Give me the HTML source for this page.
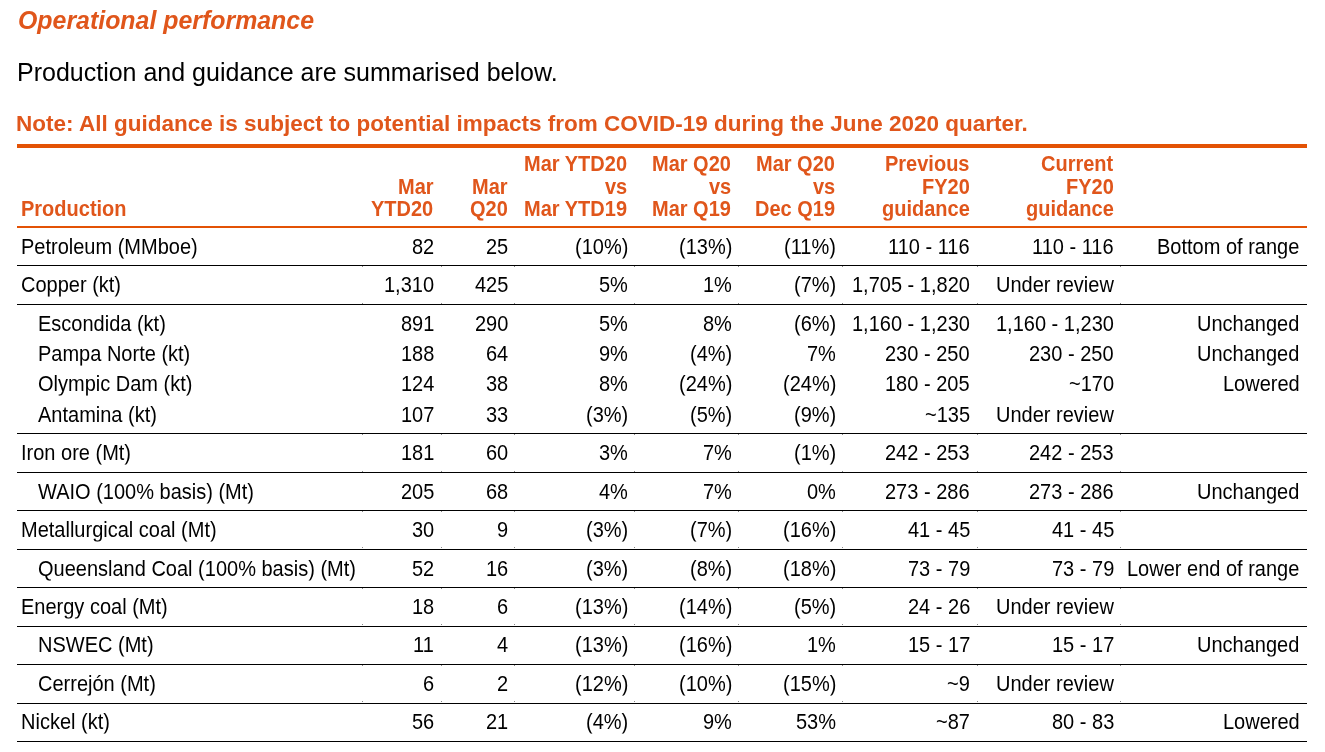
<!DOCTYPE html>
<html><head><meta charset="utf-8"><style>
html,body{margin:0;padding:0;background:#fff;}
body{width:1325px;height:752px;position:relative;overflow:hidden;font-family:"Liberation Sans",sans-serif;}
.t{position:absolute;white-space:nowrap;will-change:transform;}
.l{position:absolute;}
</style></head><body>
<div class="t" style="left:18px;top:8.32px;font-size:24.9px;line-height:24.9px;color:#E0561B;font-weight:bold;font-style:italic;transform-origin:0 21.08px;transform:scale(1,1.01)">Operational performance</div>
<div class="t" style="left:16.8px;top:60.43px;font-size:25.0px;line-height:25.0px;color:#000;transform-origin:0 21.17px;transform:scale(1,1.04)">Production and guidance are summarised below.</div>
<div class="t" style="left:16px;top:113.15px;font-size:22.5px;line-height:22.5px;color:#E0561B;font-weight:bold;transform-origin:0 19.05px;transform:scale(1,1.0)">Note: All guidance is subject to potential impacts from COVID-19 during the June 2020 quarter.</div>
<div class="l" style="left:17px;top:144px;width:1290px;height:4px;background:#E35205"></div>
<div class="t" style="left:21px;top:199.27px;font-size:20px;line-height:20px;color:#E0561B;font-weight:bold;transform-origin:0 16.93px;transform:scale(1,1.08)">Production</div>
<div class="t" style="right:891.7px;top:176.87px;font-size:20px;line-height:20px;color:#E0561B;font-weight:bold;transform-origin:0 16.93px;transform:scale(1,1.08)">Mar</div>
<div class="t" style="right:891.7px;top:199.27px;font-size:20px;line-height:20px;color:#E0561B;font-weight:bold;transform-origin:0 16.93px;transform:scale(1,1.08)">YTD20</div>
<div class="t" style="right:817.7px;top:176.87px;font-size:20px;line-height:20px;color:#E0561B;font-weight:bold;transform-origin:0 16.93px;transform:scale(1,1.08)">Mar</div>
<div class="t" style="right:817.7px;top:199.27px;font-size:20px;line-height:20px;color:#E0561B;font-weight:bold;transform-origin:0 16.93px;transform:scale(1,1.08)">Q20</div>
<div class="t" style="right:697.7px;top:154.07px;font-size:20px;line-height:20px;color:#E0561B;font-weight:bold;transform-origin:0 16.93px;transform:scale(1,1.08)">Mar YTD20</div>
<div class="t" style="right:697.7px;top:176.87px;font-size:20px;line-height:20px;color:#E0561B;font-weight:bold;transform-origin:0 16.93px;transform:scale(1,1.08)">vs</div>
<div class="t" style="right:697.7px;top:199.27px;font-size:20px;line-height:20px;color:#E0561B;font-weight:bold;transform-origin:0 16.93px;transform:scale(1,1.08)">Mar YTD19</div>
<div class="t" style="right:593.7px;top:154.07px;font-size:20px;line-height:20px;color:#E0561B;font-weight:bold;transform-origin:0 16.93px;transform:scale(1,1.08)">Mar Q20</div>
<div class="t" style="right:593.7px;top:176.87px;font-size:20px;line-height:20px;color:#E0561B;font-weight:bold;transform-origin:0 16.93px;transform:scale(1,1.08)">vs</div>
<div class="t" style="right:593.7px;top:199.27px;font-size:20px;line-height:20px;color:#E0561B;font-weight:bold;transform-origin:0 16.93px;transform:scale(1,1.08)">Mar Q19</div>
<div class="t" style="right:489.70000000000005px;top:154.07px;font-size:20px;line-height:20px;color:#E0561B;font-weight:bold;transform-origin:0 16.93px;transform:scale(1,1.08)">Mar Q20</div>
<div class="t" style="right:489.70000000000005px;top:176.87px;font-size:20px;line-height:20px;color:#E0561B;font-weight:bold;transform-origin:0 16.93px;transform:scale(1,1.08)">vs</div>
<div class="t" style="right:489.70000000000005px;top:199.27px;font-size:20px;line-height:20px;color:#E0561B;font-weight:bold;transform-origin:0 16.93px;transform:scale(1,1.08)">Dec Q19</div>
<div class="t" style="right:355.70000000000005px;top:154.07px;font-size:20px;line-height:20px;color:#E0561B;font-weight:bold;transform-origin:0 16.93px;transform:scale(1,1.08)">Previous</div>
<div class="t" style="right:355.70000000000005px;top:176.87px;font-size:20px;line-height:20px;color:#E0561B;font-weight:bold;transform-origin:0 16.93px;transform:scale(1,1.08)">FY20</div>
<div class="t" style="right:355.70000000000005px;top:199.27px;font-size:20px;line-height:20px;color:#E0561B;font-weight:bold;transform-origin:0 16.93px;transform:scale(1,1.08)">guidance</div>
<div class="t" style="right:211.70000000000005px;top:154.07px;font-size:20px;line-height:20px;color:#E0561B;font-weight:bold;transform-origin:0 16.93px;transform:scale(1,1.08)">Current</div>
<div class="t" style="right:211.70000000000005px;top:176.87px;font-size:20px;line-height:20px;color:#E0561B;font-weight:bold;transform-origin:0 16.93px;transform:scale(1,1.08)">FY20</div>
<div class="t" style="right:211.70000000000005px;top:199.27px;font-size:20px;line-height:20px;color:#E0561B;font-weight:bold;transform-origin:0 16.93px;transform:scale(1,1.08)">guidance</div>
<div class="l" style="left:17px;top:226px;width:1290px;height:2px;background:#E35205"></div>
<div class="t" style="left:21px;top:236.57px;font-size:20px;line-height:20px;color:#000;transform-origin:0 16.93px;transform:scale(1,1.08)">Petroleum (MMboe)</div>
<div class="t" style="right:891px;top:236.57px;font-size:20px;line-height:20px;color:#000;transform-origin:0 16.93px;transform:scale(1,1.08)">82</div>
<div class="t" style="right:817px;top:236.57px;font-size:20px;line-height:20px;color:#000;transform-origin:0 16.93px;transform:scale(1,1.08)">25</div>
<div class="t" style="right:697px;top:236.57px;font-size:20px;line-height:20px;color:#000;transform-origin:0 16.93px;transform:scale(1,1.08)">(10%)</div>
<div class="t" style="right:593px;top:236.57px;font-size:20px;line-height:20px;color:#000;transform-origin:0 16.93px;transform:scale(1,1.08)">(13%)</div>
<div class="t" style="right:489px;top:236.57px;font-size:20px;line-height:20px;color:#000;transform-origin:0 16.93px;transform:scale(1,1.08)">(11%)</div>
<div class="t" style="right:355px;top:236.57px;font-size:20px;line-height:20px;color:#000;transform-origin:0 16.93px;transform:scale(1,1.08)">110 - 116</div>
<div class="t" style="right:211px;top:236.57px;font-size:20px;line-height:20px;color:#000;transform-origin:0 16.93px;transform:scale(1,1.08)">110 - 116</div>
<div class="t" style="right:25.5px;top:236.57px;font-size:20px;line-height:20px;color:#000;transform-origin:0 16.93px;transform:scale(1,1.08)">Bottom of range</div>
<div class="t" style="left:21px;top:274.57px;font-size:20px;line-height:20px;color:#000;transform-origin:0 16.93px;transform:scale(1,1.08)">Copper (kt)</div>
<div class="t" style="right:891px;top:274.57px;font-size:20px;line-height:20px;color:#000;transform-origin:0 16.93px;transform:scale(1,1.08)">1,310</div>
<div class="t" style="right:817px;top:274.57px;font-size:20px;line-height:20px;color:#000;transform-origin:0 16.93px;transform:scale(1,1.08)">425</div>
<div class="t" style="right:697px;top:274.57px;font-size:20px;line-height:20px;color:#000;transform-origin:0 16.93px;transform:scale(1,1.08)">5%</div>
<div class="t" style="right:593px;top:274.57px;font-size:20px;line-height:20px;color:#000;transform-origin:0 16.93px;transform:scale(1,1.08)">1%</div>
<div class="t" style="right:489px;top:274.57px;font-size:20px;line-height:20px;color:#000;transform-origin:0 16.93px;transform:scale(1,1.08)">(7%)</div>
<div class="t" style="right:355px;top:274.57px;font-size:20px;line-height:20px;color:#000;transform-origin:0 16.93px;transform:scale(1,1.08)">1,705 - 1,820</div>
<div class="t" style="right:211px;top:274.57px;font-size:20px;line-height:20px;color:#000;transform-origin:0 16.93px;transform:scale(1,1.08)">Under review</div>
<div class="t" style="left:38px;top:313.57px;font-size:20px;line-height:20px;color:#000;transform-origin:0 16.93px;transform:scale(1,1.08)">Escondida (kt)</div>
<div class="t" style="right:891px;top:313.57px;font-size:20px;line-height:20px;color:#000;transform-origin:0 16.93px;transform:scale(1,1.08)">891</div>
<div class="t" style="right:817px;top:313.57px;font-size:20px;line-height:20px;color:#000;transform-origin:0 16.93px;transform:scale(1,1.08)">290</div>
<div class="t" style="right:697px;top:313.57px;font-size:20px;line-height:20px;color:#000;transform-origin:0 16.93px;transform:scale(1,1.08)">5%</div>
<div class="t" style="right:593px;top:313.57px;font-size:20px;line-height:20px;color:#000;transform-origin:0 16.93px;transform:scale(1,1.08)">8%</div>
<div class="t" style="right:489px;top:313.57px;font-size:20px;line-height:20px;color:#000;transform-origin:0 16.93px;transform:scale(1,1.08)">(6%)</div>
<div class="t" style="right:355px;top:313.57px;font-size:20px;line-height:20px;color:#000;transform-origin:0 16.93px;transform:scale(1,1.08)">1,160 - 1,230</div>
<div class="t" style="right:211px;top:313.57px;font-size:20px;line-height:20px;color:#000;transform-origin:0 16.93px;transform:scale(1,1.08)">1,160 - 1,230</div>
<div class="t" style="right:25.5px;top:313.57px;font-size:20px;line-height:20px;color:#000;transform-origin:0 16.93px;transform:scale(1,1.08)">Unchanged</div>
<div class="t" style="left:38px;top:344.07px;font-size:20px;line-height:20px;color:#000;transform-origin:0 16.93px;transform:scale(1,1.08)">Pampa Norte (kt)</div>
<div class="t" style="right:891px;top:344.07px;font-size:20px;line-height:20px;color:#000;transform-origin:0 16.93px;transform:scale(1,1.08)">188</div>
<div class="t" style="right:817px;top:344.07px;font-size:20px;line-height:20px;color:#000;transform-origin:0 16.93px;transform:scale(1,1.08)">64</div>
<div class="t" style="right:697px;top:344.07px;font-size:20px;line-height:20px;color:#000;transform-origin:0 16.93px;transform:scale(1,1.08)">9%</div>
<div class="t" style="right:593px;top:344.07px;font-size:20px;line-height:20px;color:#000;transform-origin:0 16.93px;transform:scale(1,1.08)">(4%)</div>
<div class="t" style="right:489px;top:344.07px;font-size:20px;line-height:20px;color:#000;transform-origin:0 16.93px;transform:scale(1,1.08)">7%</div>
<div class="t" style="right:355px;top:344.07px;font-size:20px;line-height:20px;color:#000;transform-origin:0 16.93px;transform:scale(1,1.08)">230 - 250</div>
<div class="t" style="right:211px;top:344.07px;font-size:20px;line-height:20px;color:#000;transform-origin:0 16.93px;transform:scale(1,1.08)">230 - 250</div>
<div class="t" style="right:25.5px;top:344.07px;font-size:20px;line-height:20px;color:#000;transform-origin:0 16.93px;transform:scale(1,1.08)">Unchanged</div>
<div class="t" style="left:38px;top:374.37px;font-size:20px;line-height:20px;color:#000;transform-origin:0 16.93px;transform:scale(1,1.08)">Olympic Dam (kt)</div>
<div class="t" style="right:891px;top:374.37px;font-size:20px;line-height:20px;color:#000;transform-origin:0 16.93px;transform:scale(1,1.08)">124</div>
<div class="t" style="right:817px;top:374.37px;font-size:20px;line-height:20px;color:#000;transform-origin:0 16.93px;transform:scale(1,1.08)">38</div>
<div class="t" style="right:697px;top:374.37px;font-size:20px;line-height:20px;color:#000;transform-origin:0 16.93px;transform:scale(1,1.08)">8%</div>
<div class="t" style="right:593px;top:374.37px;font-size:20px;line-height:20px;color:#000;transform-origin:0 16.93px;transform:scale(1,1.08)">(24%)</div>
<div class="t" style="right:489px;top:374.37px;font-size:20px;line-height:20px;color:#000;transform-origin:0 16.93px;transform:scale(1,1.08)">(24%)</div>
<div class="t" style="right:355px;top:374.37px;font-size:20px;line-height:20px;color:#000;transform-origin:0 16.93px;transform:scale(1,1.08)">180 - 205</div>
<div class="t" style="right:211px;top:374.37px;font-size:20px;line-height:20px;color:#000;transform-origin:0 16.93px;transform:scale(1,1.08)">~170</div>
<div class="t" style="right:25.5px;top:374.37px;font-size:20px;line-height:20px;color:#000;transform-origin:0 16.93px;transform:scale(1,1.08)">Lowered</div>
<div class="t" style="left:38px;top:405.07px;font-size:20px;line-height:20px;color:#000;transform-origin:0 16.93px;transform:scale(1,1.08)">Antamina (kt)</div>
<div class="t" style="right:891px;top:405.07px;font-size:20px;line-height:20px;color:#000;transform-origin:0 16.93px;transform:scale(1,1.08)">107</div>
<div class="t" style="right:817px;top:405.07px;font-size:20px;line-height:20px;color:#000;transform-origin:0 16.93px;transform:scale(1,1.08)">33</div>
<div class="t" style="right:697px;top:405.07px;font-size:20px;line-height:20px;color:#000;transform-origin:0 16.93px;transform:scale(1,1.08)">(3%)</div>
<div class="t" style="right:593px;top:405.07px;font-size:20px;line-height:20px;color:#000;transform-origin:0 16.93px;transform:scale(1,1.08)">(5%)</div>
<div class="t" style="right:489px;top:405.07px;font-size:20px;line-height:20px;color:#000;transform-origin:0 16.93px;transform:scale(1,1.08)">(9%)</div>
<div class="t" style="right:355px;top:405.07px;font-size:20px;line-height:20px;color:#000;transform-origin:0 16.93px;transform:scale(1,1.08)">~135</div>
<div class="t" style="right:211px;top:405.07px;font-size:20px;line-height:20px;color:#000;transform-origin:0 16.93px;transform:scale(1,1.08)">Under review</div>
<div class="t" style="left:21px;top:443.07px;font-size:20px;line-height:20px;color:#000;transform-origin:0 16.93px;transform:scale(1,1.08)">Iron ore (Mt)</div>
<div class="t" style="right:891px;top:443.07px;font-size:20px;line-height:20px;color:#000;transform-origin:0 16.93px;transform:scale(1,1.08)">181</div>
<div class="t" style="right:817px;top:443.07px;font-size:20px;line-height:20px;color:#000;transform-origin:0 16.93px;transform:scale(1,1.08)">60</div>
<div class="t" style="right:697px;top:443.07px;font-size:20px;line-height:20px;color:#000;transform-origin:0 16.93px;transform:scale(1,1.08)">3%</div>
<div class="t" style="right:593px;top:443.07px;font-size:20px;line-height:20px;color:#000;transform-origin:0 16.93px;transform:scale(1,1.08)">7%</div>
<div class="t" style="right:489px;top:443.07px;font-size:20px;line-height:20px;color:#000;transform-origin:0 16.93px;transform:scale(1,1.08)">(1%)</div>
<div class="t" style="right:355px;top:443.07px;font-size:20px;line-height:20px;color:#000;transform-origin:0 16.93px;transform:scale(1,1.08)">242 - 253</div>
<div class="t" style="right:211px;top:443.07px;font-size:20px;line-height:20px;color:#000;transform-origin:0 16.93px;transform:scale(1,1.08)">242 - 253</div>
<div class="t" style="left:38px;top:482.07px;font-size:20px;line-height:20px;color:#000;transform-origin:0 16.93px;transform:scale(1,1.08)">WAIO (100% basis) (Mt)</div>
<div class="t" style="right:891px;top:482.07px;font-size:20px;line-height:20px;color:#000;transform-origin:0 16.93px;transform:scale(1,1.08)">205</div>
<div class="t" style="right:817px;top:482.07px;font-size:20px;line-height:20px;color:#000;transform-origin:0 16.93px;transform:scale(1,1.08)">68</div>
<div class="t" style="right:697px;top:482.07px;font-size:20px;line-height:20px;color:#000;transform-origin:0 16.93px;transform:scale(1,1.08)">4%</div>
<div class="t" style="right:593px;top:482.07px;font-size:20px;line-height:20px;color:#000;transform-origin:0 16.93px;transform:scale(1,1.08)">7%</div>
<div class="t" style="right:489px;top:482.07px;font-size:20px;line-height:20px;color:#000;transform-origin:0 16.93px;transform:scale(1,1.08)">0%</div>
<div class="t" style="right:355px;top:482.07px;font-size:20px;line-height:20px;color:#000;transform-origin:0 16.93px;transform:scale(1,1.08)">273 - 286</div>
<div class="t" style="right:211px;top:482.07px;font-size:20px;line-height:20px;color:#000;transform-origin:0 16.93px;transform:scale(1,1.08)">273 - 286</div>
<div class="t" style="right:25.5px;top:482.07px;font-size:20px;line-height:20px;color:#000;transform-origin:0 16.93px;transform:scale(1,1.08)">Unchanged</div>
<div class="t" style="left:21px;top:520.07px;font-size:20px;line-height:20px;color:#000;transform-origin:0 16.93px;transform:scale(1,1.08)">Metallurgical coal (Mt)</div>
<div class="t" style="right:891px;top:520.07px;font-size:20px;line-height:20px;color:#000;transform-origin:0 16.93px;transform:scale(1,1.08)">30</div>
<div class="t" style="right:817px;top:520.07px;font-size:20px;line-height:20px;color:#000;transform-origin:0 16.93px;transform:scale(1,1.08)">9</div>
<div class="t" style="right:697px;top:520.07px;font-size:20px;line-height:20px;color:#000;transform-origin:0 16.93px;transform:scale(1,1.08)">(3%)</div>
<div class="t" style="right:593px;top:520.07px;font-size:20px;line-height:20px;color:#000;transform-origin:0 16.93px;transform:scale(1,1.08)">(7%)</div>
<div class="t" style="right:489px;top:520.07px;font-size:20px;line-height:20px;color:#000;transform-origin:0 16.93px;transform:scale(1,1.08)">(16%)</div>
<div class="t" style="right:355px;top:520.07px;font-size:20px;line-height:20px;color:#000;transform-origin:0 16.93px;transform:scale(1,1.08)">41 - 45</div>
<div class="t" style="right:211px;top:520.07px;font-size:20px;line-height:20px;color:#000;transform-origin:0 16.93px;transform:scale(1,1.08)">41 - 45</div>
<div class="t" style="left:38px;top:558.57px;font-size:20px;line-height:20px;color:#000;transform-origin:0 16.93px;transform:scale(1,1.08)">Queensland Coal (100% basis) (Mt)</div>
<div class="t" style="right:891px;top:558.57px;font-size:20px;line-height:20px;color:#000;transform-origin:0 16.93px;transform:scale(1,1.08)">52</div>
<div class="t" style="right:817px;top:558.57px;font-size:20px;line-height:20px;color:#000;transform-origin:0 16.93px;transform:scale(1,1.08)">16</div>
<div class="t" style="right:697px;top:558.57px;font-size:20px;line-height:20px;color:#000;transform-origin:0 16.93px;transform:scale(1,1.08)">(3%)</div>
<div class="t" style="right:593px;top:558.57px;font-size:20px;line-height:20px;color:#000;transform-origin:0 16.93px;transform:scale(1,1.08)">(8%)</div>
<div class="t" style="right:489px;top:558.57px;font-size:20px;line-height:20px;color:#000;transform-origin:0 16.93px;transform:scale(1,1.08)">(18%)</div>
<div class="t" style="right:355px;top:558.57px;font-size:20px;line-height:20px;color:#000;transform-origin:0 16.93px;transform:scale(1,1.08)">73 - 79</div>
<div class="t" style="right:211px;top:558.57px;font-size:20px;line-height:20px;color:#000;transform-origin:0 16.93px;transform:scale(1,1.08)">73 - 79</div>
<div class="t" style="right:25.5px;top:558.57px;font-size:20px;line-height:20px;color:#000;transform-origin:0 16.93px;transform:scale(1,1.08)">Lower end of range</div>
<div class="t" style="left:21px;top:597.07px;font-size:20px;line-height:20px;color:#000;transform-origin:0 16.93px;transform:scale(1,1.08)">Energy coal (Mt)</div>
<div class="t" style="right:891px;top:597.07px;font-size:20px;line-height:20px;color:#000;transform-origin:0 16.93px;transform:scale(1,1.08)">18</div>
<div class="t" style="right:817px;top:597.07px;font-size:20px;line-height:20px;color:#000;transform-origin:0 16.93px;transform:scale(1,1.08)">6</div>
<div class="t" style="right:697px;top:597.07px;font-size:20px;line-height:20px;color:#000;transform-origin:0 16.93px;transform:scale(1,1.08)">(13%)</div>
<div class="t" style="right:593px;top:597.07px;font-size:20px;line-height:20px;color:#000;transform-origin:0 16.93px;transform:scale(1,1.08)">(14%)</div>
<div class="t" style="right:489px;top:597.07px;font-size:20px;line-height:20px;color:#000;transform-origin:0 16.93px;transform:scale(1,1.08)">(5%)</div>
<div class="t" style="right:355px;top:597.07px;font-size:20px;line-height:20px;color:#000;transform-origin:0 16.93px;transform:scale(1,1.08)">24 - 26</div>
<div class="t" style="right:211px;top:597.07px;font-size:20px;line-height:20px;color:#000;transform-origin:0 16.93px;transform:scale(1,1.08)">Under review</div>
<div class="t" style="left:38px;top:634.77px;font-size:20px;line-height:20px;color:#000;transform-origin:0 16.93px;transform:scale(1,1.08)">NSWEC (Mt)</div>
<div class="t" style="right:891px;top:634.77px;font-size:20px;line-height:20px;color:#000;transform-origin:0 16.93px;transform:scale(1,1.08)">11</div>
<div class="t" style="right:817px;top:634.77px;font-size:20px;line-height:20px;color:#000;transform-origin:0 16.93px;transform:scale(1,1.08)">4</div>
<div class="t" style="right:697px;top:634.77px;font-size:20px;line-height:20px;color:#000;transform-origin:0 16.93px;transform:scale(1,1.08)">(13%)</div>
<div class="t" style="right:593px;top:634.77px;font-size:20px;line-height:20px;color:#000;transform-origin:0 16.93px;transform:scale(1,1.08)">(16%)</div>
<div class="t" style="right:489px;top:634.77px;font-size:20px;line-height:20px;color:#000;transform-origin:0 16.93px;transform:scale(1,1.08)">1%</div>
<div class="t" style="right:355px;top:634.77px;font-size:20px;line-height:20px;color:#000;transform-origin:0 16.93px;transform:scale(1,1.08)">15 - 17</div>
<div class="t" style="right:211px;top:634.77px;font-size:20px;line-height:20px;color:#000;transform-origin:0 16.93px;transform:scale(1,1.08)">15 - 17</div>
<div class="t" style="right:25.5px;top:634.77px;font-size:20px;line-height:20px;color:#000;transform-origin:0 16.93px;transform:scale(1,1.08)">Unchanged</div>
<div class="t" style="left:38px;top:674.07px;font-size:20px;line-height:20px;color:#000;transform-origin:0 16.93px;transform:scale(1,1.08)">Cerrej&oacute;n (Mt)</div>
<div class="t" style="right:891px;top:674.07px;font-size:20px;line-height:20px;color:#000;transform-origin:0 16.93px;transform:scale(1,1.08)">6</div>
<div class="t" style="right:817px;top:674.07px;font-size:20px;line-height:20px;color:#000;transform-origin:0 16.93px;transform:scale(1,1.08)">2</div>
<div class="t" style="right:697px;top:674.07px;font-size:20px;line-height:20px;color:#000;transform-origin:0 16.93px;transform:scale(1,1.08)">(12%)</div>
<div class="t" style="right:593px;top:674.07px;font-size:20px;line-height:20px;color:#000;transform-origin:0 16.93px;transform:scale(1,1.08)">(10%)</div>
<div class="t" style="right:489px;top:674.07px;font-size:20px;line-height:20px;color:#000;transform-origin:0 16.93px;transform:scale(1,1.08)">(15%)</div>
<div class="t" style="right:355px;top:674.07px;font-size:20px;line-height:20px;color:#000;transform-origin:0 16.93px;transform:scale(1,1.08)">~9</div>
<div class="t" style="right:211px;top:674.07px;font-size:20px;line-height:20px;color:#000;transform-origin:0 16.93px;transform:scale(1,1.08)">Under review</div>
<div class="t" style="left:21px;top:711.77px;font-size:20px;line-height:20px;color:#000;transform-origin:0 16.93px;transform:scale(1,1.08)">Nickel (kt)</div>
<div class="t" style="right:891px;top:711.77px;font-size:20px;line-height:20px;color:#000;transform-origin:0 16.93px;transform:scale(1,1.08)">56</div>
<div class="t" style="right:817px;top:711.77px;font-size:20px;line-height:20px;color:#000;transform-origin:0 16.93px;transform:scale(1,1.08)">21</div>
<div class="t" style="right:697px;top:711.77px;font-size:20px;line-height:20px;color:#000;transform-origin:0 16.93px;transform:scale(1,1.08)">(4%)</div>
<div class="t" style="right:593px;top:711.77px;font-size:20px;line-height:20px;color:#000;transform-origin:0 16.93px;transform:scale(1,1.08)">9%</div>
<div class="t" style="right:489px;top:711.77px;font-size:20px;line-height:20px;color:#000;transform-origin:0 16.93px;transform:scale(1,1.08)">53%</div>
<div class="t" style="right:355px;top:711.77px;font-size:20px;line-height:20px;color:#000;transform-origin:0 16.93px;transform:scale(1,1.08)">~87</div>
<div class="t" style="right:211px;top:711.77px;font-size:20px;line-height:20px;color:#000;transform-origin:0 16.93px;transform:scale(1,1.08)">80 - 83</div>
<div class="t" style="right:25.5px;top:711.77px;font-size:20px;line-height:20px;color:#000;transform-origin:0 16.93px;transform:scale(1,1.08)">Lowered</div>
<div class="l" style="left:17px;top:265px;width:1290px;height:1px;background:#000"></div>
<div class="l" style="left:17px;top:304px;width:1290px;height:1px;background:#000"></div>
<div class="l" style="left:17px;top:433px;width:1290px;height:1px;background:#000"></div>
<div class="l" style="left:17px;top:472px;width:1290px;height:1px;background:#000"></div>
<div class="l" style="left:17px;top:510px;width:1290px;height:1px;background:#000"></div>
<div class="l" style="left:17px;top:548.5px;width:1290px;height:1px;background:#000"></div>
<div class="l" style="left:17px;top:587px;width:1290px;height:1px;background:#000"></div>
<div class="l" style="left:17px;top:625.5px;width:1290px;height:1px;background:#000"></div>
<div class="l" style="left:17px;top:664px;width:1290px;height:1px;background:#000"></div>
<div class="l" style="left:17px;top:702.5px;width:1290px;height:1px;background:#000"></div>
<div class="l" style="left:17px;top:741px;width:1290px;height:1px;background:#000"></div>
<div class="l" style="left:362px;top:266px;width:1px;height:1px;background:#888"></div>
<div class="l" style="left:362px;top:303px;width:1px;height:1px;background:#888"></div>
<div class="l" style="left:441px;top:266px;width:1px;height:1px;background:#888"></div>
<div class="l" style="left:441px;top:303px;width:1px;height:1px;background:#888"></div>
<div class="l" style="left:514px;top:266px;width:1px;height:1px;background:#888"></div>
<div class="l" style="left:514px;top:303px;width:1px;height:1px;background:#888"></div>
<div class="l" style="left:634px;top:266px;width:1px;height:1px;background:#888"></div>
<div class="l" style="left:634px;top:303px;width:1px;height:1px;background:#888"></div>
<div class="l" style="left:738px;top:266px;width:1px;height:1px;background:#888"></div>
<div class="l" style="left:738px;top:303px;width:1px;height:1px;background:#888"></div>
<div class="l" style="left:842px;top:266px;width:1px;height:1px;background:#888"></div>
<div class="l" style="left:842px;top:303px;width:1px;height:1px;background:#888"></div>
<div class="l" style="left:977px;top:266px;width:1px;height:1px;background:#888"></div>
<div class="l" style="left:977px;top:303px;width:1px;height:1px;background:#888"></div>
<div class="l" style="left:1120px;top:266px;width:1px;height:1px;background:#888"></div>
<div class="l" style="left:1120px;top:303px;width:1px;height:1px;background:#888"></div>
<div class="l" style="left:362px;top:434px;width:1px;height:1px;background:#888"></div>
<div class="l" style="left:362px;top:471px;width:1px;height:1px;background:#888"></div>
<div class="l" style="left:441px;top:434px;width:1px;height:1px;background:#888"></div>
<div class="l" style="left:441px;top:471px;width:1px;height:1px;background:#888"></div>
<div class="l" style="left:514px;top:434px;width:1px;height:1px;background:#888"></div>
<div class="l" style="left:514px;top:471px;width:1px;height:1px;background:#888"></div>
<div class="l" style="left:634px;top:434px;width:1px;height:1px;background:#888"></div>
<div class="l" style="left:634px;top:471px;width:1px;height:1px;background:#888"></div>
<div class="l" style="left:738px;top:434px;width:1px;height:1px;background:#888"></div>
<div class="l" style="left:738px;top:471px;width:1px;height:1px;background:#888"></div>
<div class="l" style="left:842px;top:434px;width:1px;height:1px;background:#888"></div>
<div class="l" style="left:842px;top:471px;width:1px;height:1px;background:#888"></div>
<div class="l" style="left:977px;top:434px;width:1px;height:1px;background:#888"></div>
<div class="l" style="left:977px;top:471px;width:1px;height:1px;background:#888"></div>
<div class="l" style="left:1120px;top:434px;width:1px;height:1px;background:#888"></div>
<div class="l" style="left:1120px;top:471px;width:1px;height:1px;background:#888"></div>
<div class="l" style="left:362px;top:511px;width:1px;height:1px;background:#888"></div>
<div class="l" style="left:362px;top:547px;width:1px;height:1px;background:#888"></div>
<div class="l" style="left:441px;top:511px;width:1px;height:1px;background:#888"></div>
<div class="l" style="left:441px;top:547px;width:1px;height:1px;background:#888"></div>
<div class="l" style="left:514px;top:511px;width:1px;height:1px;background:#888"></div>
<div class="l" style="left:514px;top:547px;width:1px;height:1px;background:#888"></div>
<div class="l" style="left:634px;top:511px;width:1px;height:1px;background:#888"></div>
<div class="l" style="left:634px;top:547px;width:1px;height:1px;background:#888"></div>
<div class="l" style="left:738px;top:511px;width:1px;height:1px;background:#888"></div>
<div class="l" style="left:738px;top:547px;width:1px;height:1px;background:#888"></div>
<div class="l" style="left:842px;top:511px;width:1px;height:1px;background:#888"></div>
<div class="l" style="left:842px;top:547px;width:1px;height:1px;background:#888"></div>
<div class="l" style="left:977px;top:511px;width:1px;height:1px;background:#888"></div>
<div class="l" style="left:977px;top:547px;width:1px;height:1px;background:#888"></div>
<div class="l" style="left:1120px;top:511px;width:1px;height:1px;background:#888"></div>
<div class="l" style="left:1120px;top:547px;width:1px;height:1px;background:#888"></div>
<div class="l" style="left:362px;top:588px;width:1px;height:1px;background:#888"></div>
<div class="l" style="left:362px;top:624px;width:1px;height:1px;background:#888"></div>
<div class="l" style="left:441px;top:588px;width:1px;height:1px;background:#888"></div>
<div class="l" style="left:441px;top:624px;width:1px;height:1px;background:#888"></div>
<div class="l" style="left:514px;top:588px;width:1px;height:1px;background:#888"></div>
<div class="l" style="left:514px;top:624px;width:1px;height:1px;background:#888"></div>
<div class="l" style="left:634px;top:588px;width:1px;height:1px;background:#888"></div>
<div class="l" style="left:634px;top:624px;width:1px;height:1px;background:#888"></div>
<div class="l" style="left:738px;top:588px;width:1px;height:1px;background:#888"></div>
<div class="l" style="left:738px;top:624px;width:1px;height:1px;background:#888"></div>
<div class="l" style="left:842px;top:588px;width:1px;height:1px;background:#888"></div>
<div class="l" style="left:842px;top:624px;width:1px;height:1px;background:#888"></div>
<div class="l" style="left:977px;top:588px;width:1px;height:1px;background:#888"></div>
<div class="l" style="left:977px;top:624px;width:1px;height:1px;background:#888"></div>
<div class="l" style="left:1120px;top:588px;width:1px;height:1px;background:#888"></div>
<div class="l" style="left:1120px;top:624px;width:1px;height:1px;background:#888"></div>
<div class="l" style="left:362px;top:665px;width:1px;height:1px;background:#888"></div>
<div class="l" style="left:362px;top:701px;width:1px;height:1px;background:#888"></div>
<div class="l" style="left:441px;top:665px;width:1px;height:1px;background:#888"></div>
<div class="l" style="left:441px;top:701px;width:1px;height:1px;background:#888"></div>
<div class="l" style="left:514px;top:665px;width:1px;height:1px;background:#888"></div>
<div class="l" style="left:514px;top:701px;width:1px;height:1px;background:#888"></div>
<div class="l" style="left:634px;top:665px;width:1px;height:1px;background:#888"></div>
<div class="l" style="left:634px;top:701px;width:1px;height:1px;background:#888"></div>
<div class="l" style="left:738px;top:665px;width:1px;height:1px;background:#888"></div>
<div class="l" style="left:738px;top:701px;width:1px;height:1px;background:#888"></div>
<div class="l" style="left:842px;top:665px;width:1px;height:1px;background:#888"></div>
<div class="l" style="left:842px;top:701px;width:1px;height:1px;background:#888"></div>
<div class="l" style="left:977px;top:665px;width:1px;height:1px;background:#888"></div>
<div class="l" style="left:977px;top:701px;width:1px;height:1px;background:#888"></div>
<div class="l" style="left:1120px;top:665px;width:1px;height:1px;background:#888"></div>
<div class="l" style="left:1120px;top:701px;width:1px;height:1px;background:#888"></div>
</body></html>
